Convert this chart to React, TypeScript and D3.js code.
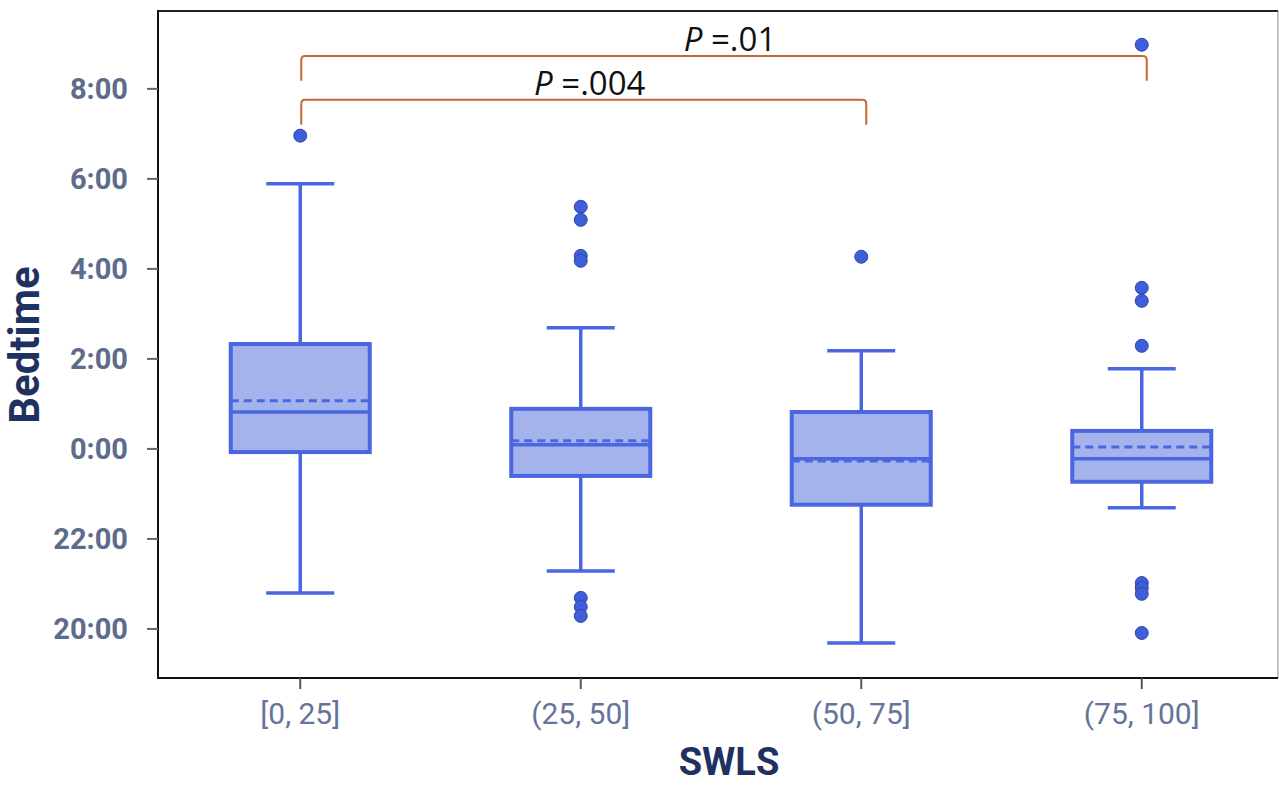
import React, { useEffect, useRef } from "react";
import * as d3 from "d3";

// SWLS groups and bedtime summaries (hours relative to midnight, negative = previous evening)
const categories = ["[0, 25]", "(25, 50]", "(50, 75]", "(75, 100]"];
const whiskerLow = [-3.2, -2.71, -4.31, -1.31];
const q1 = [-0.07, -0.6, -1.24, -0.73];
const medians = [0.82, 0.09, -0.22, -0.22];
const means = [1.07, 0.18, -0.27, 0.04];
const q3 = [2.33, 0.89, 0.82, 0.4];
const whiskerHigh = [5.89, 2.69, 2.18, 1.78];
const outliers = [
  [6.96],
  [5.38, 5.09, 4.29, 4.18, -3.31, -3.51, -3.71],
  [4.27],
  [8.98, 3.58, 3.29, 2.29, -2.98, -3.09, -3.22, -4.09],
];
const yTicks = [-4, -2, 0, 2, 4, 6, 8];

// significance brackets: group indices, bar height and leg bottom (hours)
const compFrom = [0, 0];
const compTo = [3, 2];
const compBar = [8.73, 7.76];
const compLeg = [8.18, 7.2];
const compLabel = [".01", ".004"];

const fmtTime = (h: number) => `${h < 0 ? 24 + h : h}:00`;

const App = () => {
  const ref = useRef<SVGSVGElement>(null);

  useEffect(() => {
    const svg = d3.select(ref.current);
    svg.selectAll("*").remove();

    const left = 158;
    const right = 1278;
    const top = 11;
    const bottom = 678;

    const x = d3.scalePoint<string>().domain(categories).range([160, 1282]).padding(0.5);
    const y = d3.scaleLinear().domain([-5.09, 9.73]).range([bottom, top]);

    const boxW = 139;
    const capW = 68;
    const blue = "#4a66e0";
    const fill = "#a4b3ec";

    // frame
    svg.append("line").attr("x1", left).attr("x2", right).attr("y1", top).attr("y2", top)
      .attr("stroke", "#222").attr("stroke-width", 2);
    svg.append("line").attr("x1", right).attr("x2", right).attr("y1", top).attr("y2", bottom)
      .attr("stroke", "#888").attr("stroke-width", 1);
    svg.append("line").attr("x1", left).attr("x2", left).attr("y1", top - 1).attr("y2", bottom + 1)
      .attr("stroke", "#111").attr("stroke-width", 2);
    svg.append("line").attr("x1", left).attr("x2", right).attr("y1", bottom).attr("y2", bottom)
      .attr("stroke", "#111").attr("stroke-width", 2);

    // y axis ticks + labels
    const yAxis = svg.append("g");
    yTicks.forEach((t) => {
      yAxis.append("line").attr("x1", left - 11).attr("x2", left).attr("y1", y(t)).attr("y2", y(t))
        .attr("stroke", "#666").attr("stroke-width", 2);
      yAxis.append("text")
        .attr("x", left - 30)
        .attr("y", y(t))
        .attr("dy", "0.36em")
        .attr("text-anchor", "end")
        .style("font-family", "Roboto, sans-serif")
        .style("font-weight", "bold")
        .style("font-size", "29px")
        .style("fill", "#5e6c8c")
        .text(fmtTime(t));
    });

    // x axis ticks + labels
    categories.forEach((c) => {
      svg.append("line").attr("x1", x(c)!).attr("x2", x(c)!).attr("y1", bottom).attr("y2", bottom + 11)
        .attr("stroke", "#555").attr("stroke-width", 2);
      svg.append("text")
        .attr("x", x(c)!)
        .attr("y", 724)
        .attr("text-anchor", "middle")
        .style("font-family", "Roboto, sans-serif")
        .style("font-size", "30px")
        .style("fill", "#66739a")
        .text(c);
    });

    // axis titles
    svg.append("text")
      .attr("transform", "rotate(-90)")
      .attr("x", -345)
      .attr("y", 39)
      .attr("text-anchor", "middle")
      .style("font-family", "Roboto, sans-serif")
      .style("font-weight", "bold")
      .style("font-size", "42px")
      .style("fill", "#1f3160")
      .text("Bedtime");

    svg.append("text")
      .attr("x", 729)
      .attr("y", 775)
      .attr("text-anchor", "middle")
      .style("font-family", "Roboto, sans-serif")
      .style("font-weight", "bold")
      .style("font-size", "38px")
      .style("fill", "#1f3160")
      .text("SWLS");

    // boxes
    categories.forEach((c, i) => {
      const cx = x(c)!;
      const g = svg.append("g");
      g.append("line").attr("x1", cx).attr("x2", cx).attr("y1", y(whiskerHigh[i])).attr("y2", y(q3[i]))
        .attr("stroke", blue).attr("stroke-width", 3.5);
      g.append("line").attr("x1", cx).attr("x2", cx).attr("y1", y(q1[i])).attr("y2", y(whiskerLow[i]))
        .attr("stroke", blue).attr("stroke-width", 3.5);
      [whiskerHigh[i], whiskerLow[i]].forEach((v) => {
        g.append("line").attr("x1", cx - capW / 2).attr("x2", cx + capW / 2).attr("y1", y(v)).attr("y2", y(v))
          .attr("stroke", blue).attr("stroke-width", 3.5);
      });
      g.append("rect")
        .attr("x", cx - boxW / 2)
        .attr("y", y(q3[i]))
        .attr("width", boxW)
        .attr("height", y(q1[i]) - y(q3[i]))
        .attr("fill", fill)
        .attr("stroke", blue)
        .attr("stroke-width", 4);
      g.append("line").attr("x1", cx - boxW / 2).attr("x2", cx + boxW / 2)
        .attr("y1", y(means[i])).attr("y2", y(means[i]))
        .attr("stroke", blue).attr("stroke-width", 3).attr("stroke-dasharray", "8,5");
      g.append("line").attr("x1", cx - boxW / 2).attr("x2", cx + boxW / 2)
        .attr("y1", y(medians[i])).attr("y2", y(medians[i]))
        .attr("stroke", blue).attr("stroke-width", 3.5);

      g.selectAll("circle")
        .data(outliers[i])
        .join("circle")
        .attr("cx", cx)
        .attr("cy", (d) => y(d))
        .attr("r", 6.5)
        .attr("fill", "#3f5ed9")
        .attr("stroke", "#3146a8")
        .attr("stroke-width", 1);
    });

    // significance brackets
    compFrom.forEach((f, i) => {
      const x1 = x(categories[f])! + 1;
      const x2 = x(categories[compTo[i]])! + 5;
      const yb = y(compBar[i]);
      const yl = y(compLeg[i]);
      const r = 4;
      svg.append("path")
        .attr("d", `M${x1},${yl} L${x1},${yb + r} Q${x1},${yb} ${x1 + r},${yb} L${x2 - r},${yb} Q${x2},${yb} ${x2},${yb + r} L${x2},${yl}`)
        .attr("fill", "none")
        .attr("stroke", "#c4692f")
        .attr("stroke-width", 2);
      const t = svg.append("text")
        .attr("x", (x1 + x2) / 2 + 6)
        .attr("y", yb - 5)
        .attr("text-anchor", "middle")
        .style("font-family", "'Open Sans', sans-serif")
        .style("font-size", "33px")
        .style("fill", "#111");
      t.append("tspan").style("font-style", "italic").text("P");
      t.append("tspan").text(" =" + compLabel[i]);
    });
  }, []);

  return (
    <svg
      ref={ref}
      width={1279}
      height={785}
      style={{ position: "absolute", left: 0, top: 0, background: "#fff" }}
    />
  );
};

export default App;
